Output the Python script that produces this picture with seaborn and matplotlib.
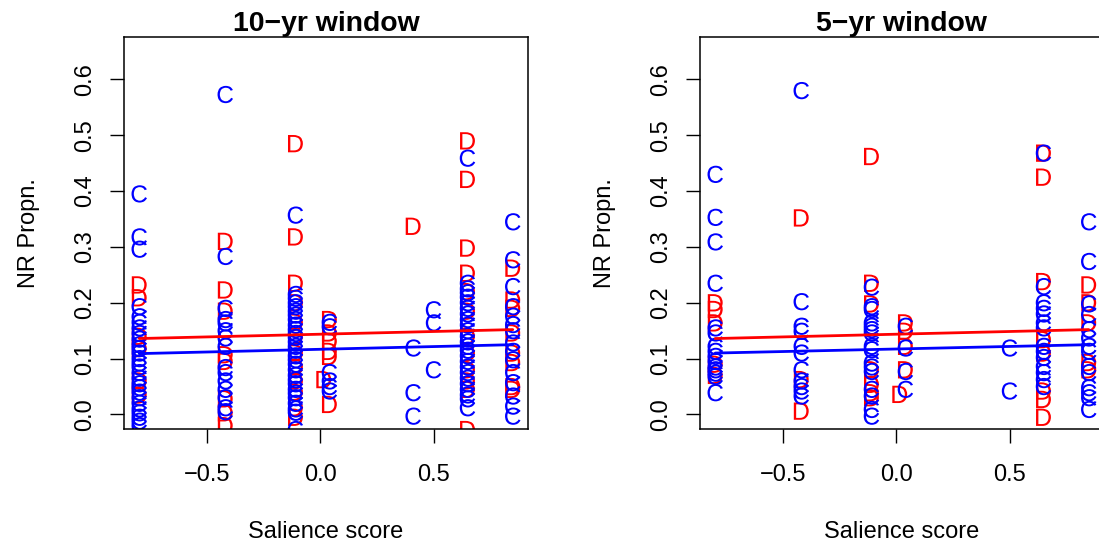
import matplotlib
matplotlib.use("Agg")
import matplotlib.pyplot as plt
import numpy as np
import pandas as pd
import seaborn as sns
from matplotlib.ticker import FixedLocator

# ---------------- data ----------------
SALIENCE = [-0.80, -0.42, -0.11, 0.015, 0.04, 0.41, 0.50, 0.65, 0.85]

C_10YR = [
    [0.395, 0.318, 0.296, 0.193, 0.175, 0.165, 0.155, 0.145, 0.135, 0.125, 0.118, 0.11, 0.10,
     0.092, 0.085, 0.075, 0.065, 0.055, 0.048, 0.04, 0.03, 0.02, 0.01, 0.003, -0.005, -0.012, -0.02],
    [0.573, 0.283, 0.19, 0.17, 0.164, 0.15, 0.137, 0.122, 0.084, 0.075, 0.06, 0.045, 0.03, 0.012, 0.005],
    [0.357, 0.215, 0.208, 0.2, 0.193, 0.185, 0.178, 0.17, 0.16, 0.152, 0.145, 0.138, 0.13, 0.122,
     0.115, 0.105, 0.098, 0.09, 0.08, 0.07, 0.062, 0.055, 0.045, 0.038, 0.03, 0.02, 0.01, 0.004, -0.027],
    [],
    [0.165, 0.157, 0.075, 0.06, 0.05, 0.042],
    [0.119, 0.039, -0.003],
    [0.1875, 0.164, 0.08],
    [0.459, 0.235, 0.225, 0.218, 0.21, 0.2, 0.19, 0.18, 0.17, 0.16, 0.15, 0.14, 0.13, 0.122, 0.115,
     0.105, 0.095, 0.085, 0.075, 0.065, 0.055, 0.045, 0.035, 0.028, 0.012],
    [0.345, 0.277, 0.229, 0.193, 0.176, 0.161, 0.15, 0.128, 0.113, 0.098, 0.075, 0.057, 0.033, 0.015, -0.003],
]
D_10YR = [
    [0.232, 0.209, 0.14, 0.118, 0.06, 0.035],
    [0.31, 0.223, 0.185, 0.107, 0.095, 0.028, 0.003, -0.02],
    [0.485, 0.318, 0.235, 0.2, 0.165, 0.14, 0.11, 0.085, 0.06, 0.04, 0.012, -0.005],
    [0.0625],
    [0.17, 0.146, 0.131, 0.113, 0.104, 0.018],
    [0.337],
    [],
    [0.49, 0.421, 0.298, 0.253, 0.22, 0.185, 0.14, 0.11, 0.08, 0.06, 0.045, -0.027],
    [0.262, 0.205, 0.19, 0.146, 0.11, 0.093, 0.05, 0.045],
]
C_5YR = [
    [0.43, 0.353, 0.309, 0.235, 0.155, 0.146, 0.122, 0.113, 0.104, 0.095, 0.085, 0.08, 0.074, 0.068, 0.039],
    [0.58, 0.202, 0.158, 0.149, 0.122, 0.11, 0.08, 0.06, 0.05, 0.042, 0.033],
    [0.228, 0.193, 0.188, 0.164, 0.158, 0.152, 0.146, 0.122, 0.116, 0.092, 0.085, 0.077, 0.045, 0.033, 0.009, -0.003],
    [],
    [0.158, 0.119, 0.077, 0.045],
    [],
    [0.119, 0.042],
    [0.468, 0.229, 0.2, 0.19, 0.18, 0.164, 0.155, 0.122, 0.113, 0.102, 0.086, 0.075, 0.0625, 0.05],
    [0.345, 0.274, 0.198, 0.179, 0.152, 0.137, 0.122, 0.113, 0.086, 0.075, 0.048, 0.039, 0.03, 0.009],
]
D_5YR = [
    [0.2, 0.188, 0.164, 0.09, 0.07],
    [0.352, 0.0625, 0.006],
    [0.462, 0.235, 0.198, 0.08, 0.054, 0.039, 0.03],
    [0.036],
    [0.164, 0.149, 0.122, 0.08],
    [],
    [],
    [0.468, 0.425, 0.238, 0.134, 0.11, 0.042, 0.027, -0.005],
    [0.232, 0.2, 0.164, 0.093, 0.08],
]

FIT_X = [-0.80, 0.85]
FIT_D_10YR = [0.136, 0.152]
FIT_C_10YR = [0.109, 0.125]
FIT_D_5YR = [0.136, 0.152]
FIT_C_5YR = [0.110, 0.125]

TITLES = ["10\u2212yr window", "5\u2212yr window"]
X_TICKS = [-0.5, 0.0, 0.5]
Y_TICKS = [0.0, 0.1, 0.2, 0.3, 0.4, 0.5, 0.6]
XLABEL = "Salience score"
YLABEL = "NR Propn."

# ---------------- style ----------------
sns.set_style("ticks")
plt.rcParams["font.family"] = ["Liberation Sans", "DejaVu Sans"]
plt.rcParams["mathtext.fontset"] = "custom"
plt.rcParams["mathtext.sf"] = "Liberation Sans"
plt.rcParams["mathtext.rm"] = "Liberation Sans"
plt.rcParams["axes.unicode_minus"] = True
plt.rcParams["text.color"] = "black"
plt.rcParams["axes.labelcolor"] = "black"
plt.rcParams["xtick.color"] = "black"
plt.rcParams["ytick.color"] = "black"

FS = 17


def build(c_lists, d_lists):
    rows = []
    for x, ys in zip(SALIENCE, d_lists):
        for y in ys:
            rows.append((x, y, "D"))
    for x, ys in zip(SALIENCE, c_lists):
        for y in ys:
            rows.append((x, y, "C"))
    return pd.DataFrame(rows, columns=["sal", "prop", "grp"])


fig = plt.figure(figsize=(10.99, 5.48), dpi=100)
W, H = 1099.0, 548.0
ax_w, ax_h = 403.4, 392.0
lefts = [124.3, 700.3]
top = 37.0

panels = [
    (C_10YR, D_10YR, FIT_C_10YR, FIT_D_10YR),
    (C_5YR, D_5YR, FIT_C_5YR, FIT_D_5YR),
]

for i, (cl, dl, fc, fd) in enumerate(panels):
    ax = fig.add_axes([lefts[i] / W, (H - top - ax_h) / H, ax_w / W, ax_h / H])
    df = build(cl, dl)
    sns.scatterplot(
        data=df, x="sal", y="prop", hue="grp", style="grp",
        markers={"C": r"$\mathsf{C}$", "D": r"$\mathsf{D}$"},
        palette={"C": "#0000FF", "D": "#FF0000"},
        s=155, linewidth=0, edgecolor="none", legend=False, ax=ax, zorder=2,
    )
    sns.lineplot(x=FIT_X, y=fd, color="#FF0000", lw=2.0, ax=ax, zorder=3)
    sns.lineplot(x=FIT_X, y=fc, color="#0000FF", lw=2.0, ax=ax, zorder=3)

    ax.set_xlim(-0.866, 0.916)
    ax.set_ylim(-0.026, 0.676)
    ax.xaxis.set_major_locator(FixedLocator(X_TICKS))
    ax.yaxis.set_major_locator(FixedLocator(Y_TICKS))
    ax.set_xticklabels([f"{v:.1f}".replace("-", "\u2212") for v in X_TICKS])
    ax.set_yticklabels([f"{v:.1f}" for v in Y_TICKS], rotation=90, va="center")
    ax.tick_params(axis="both", direction="out", length=10, width=1.0,
                   labelsize=FS, color="black", labelcolor="black")
    ax.tick_params(axis="x", pad=15.5)
    ax.tick_params(axis="y", pad=10)
    for sp in ax.spines.values():
        sp.set_visible(True)
        sp.set_color("black")
        sp.set_linewidth(1.1)

    ax.set_title(TITLES[i], fontsize=FS * 1.2, fontweight="bold", pad=4, color="black")
    ax.set_xlabel(XLABEL, fontsize=FS, color="black")
    ax.set_ylabel(YLABEL, fontsize=FS, color="black")
    ax.xaxis.set_label_coords(0.5, (top + ax_h - 521) / ax_h)
    ax.yaxis.set_label_coords((40 - 124.3) / ax_w, 0.5)
    ax.grid(False)

fig.savefig("out.png", dpi=100, facecolor="white")
